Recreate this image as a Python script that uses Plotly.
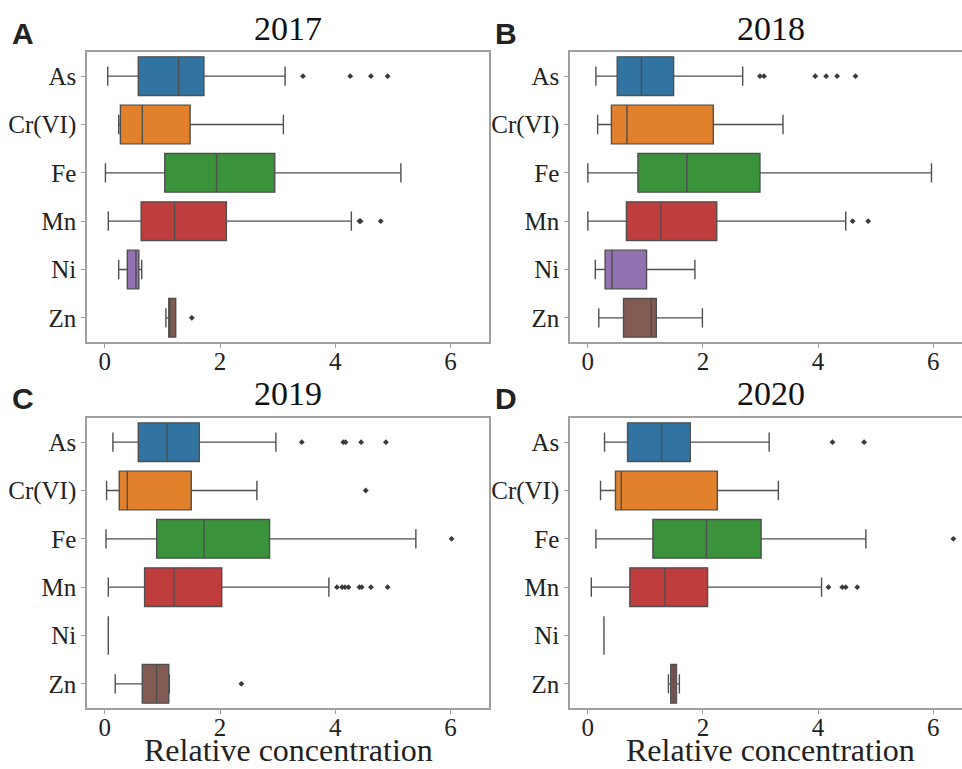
import plotly.graph_objects as go

# Elements shown on every panel (top to bottom)
ELEMENTS = ["As", "Cr(VI)", "Fe", "Mn", "Ni", "Zn"]
YEARS = ["2017", "2018", "2019", "2020"]
PANEL_LETTERS = ["A", "B", "C", "D"]
X_TICKS = [0, 2, 4, 6]

# Box statistics per year, one value per element (As, Cr(VI), Fe, Mn, Ni, Zn)
LOWER_2017 = [0.05, 0.24, 0.01, 0.06, 0.24, 1.06]
Q1_2017 = [0.58, 0.27, 1.04, 0.63, 0.39, 1.11]
MEDIAN_2017 = [1.28, 0.65, 1.94, 1.21, 0.54, 1.13]
Q3_2017 = [1.72, 1.48, 2.95, 2.11, 0.59, 1.23]
UPPER_2017 = [3.13, 3.10, 5.14, 4.28, 0.64, 1.23]
OUTLIERS_2017 = [[3.44, 4.26, 4.62, 4.91], [], [], [4.42, 4.44, 4.79], [], [1.51]]

LOWER_2018 = [0.14, 0.17, 0.00, 0.00, 0.13, 0.19]
Q1_2018 = [0.51, 0.41, 0.87, 0.67, 0.30, 0.62]
MEDIAN_2018 = [0.93, 0.68, 1.72, 1.27, 0.42, 1.10]
Q3_2018 = [1.49, 2.18, 2.99, 2.24, 1.02, 1.19]
UPPER_2018 = [2.69, 3.39, 5.97, 4.48, 1.86, 1.99]
OUTLIERS_2018 = [[2.99, 3.06, 3.95, 4.14, 4.33, 4.65], [], [], [4.60, 4.87], [], []]

LOWER_2019 = [0.14, 0.03, 0.02, 0.06, 0.06, 0.18]
Q1_2019 = [0.58, 0.25, 0.90, 0.69, 0.06, 0.65]
MEDIAN_2019 = [1.08, 0.39, 1.72, 1.20, 0.06, 0.90]
Q3_2019 = [1.64, 1.50, 2.86, 2.03, 0.06, 1.11]
UPPER_2019 = [2.97, 2.64, 5.40, 3.89, 0.06, 1.12]
OUTLIERS_2019 = [[3.42, 4.14, 4.18, 4.45, 4.88], [4.53], [6.02],
                 [4.03, 4.12, 4.17, 4.23, 4.42, 4.46, 4.62, 4.91], [], [2.37]]

LOWER_2020 = [0.29, 0.22, 0.14, 0.06, 0.28, 1.40]
Q1_2020 = [0.69, 0.48, 1.13, 0.73, 0.28, 1.44]
MEDIAN_2020 = [1.28, 0.58, 2.06, 1.34, 0.28, 1.49]
Q3_2020 = [1.78, 2.25, 3.01, 2.08, 0.28, 1.54]
UPPER_2020 = [3.15, 3.31, 4.83, 4.06, 0.28, 1.59]
OUTLIERS_2020 = [[4.25, 4.80], [], [6.35], [4.18, 4.42, 4.48, 4.68], [], []]

PANEL_STATS = [
    (LOWER_2017, Q1_2017, MEDIAN_2017, Q3_2017, UPPER_2017, OUTLIERS_2017),
    (LOWER_2018, Q1_2018, MEDIAN_2018, Q3_2018, UPPER_2018, OUTLIERS_2018),
    (LOWER_2019, Q1_2019, MEDIAN_2019, Q3_2019, UPPER_2019, OUTLIERS_2019),
    (LOWER_2020, Q1_2020, MEDIAN_2020, Q3_2020, UPPER_2020, OUTLIERS_2020),
]

# seaborn "deep" palette, desaturated as in its boxplots
COLORS = ["#3274a1", "#e1812c", "#3a923a", "#c03d3e", "#9372b2", "#845b53"]
LINE = "#4f4f4f"
FRAME = "#a0a0a0"
SERIF = "Liberation Serif, Times New Roman, serif"
SANS = "Liberation Sans, Arial, sans-serif"

W, H = 962, 769
# pixel geometry of the four axes: (left, right, top, bottom)
BOXES = [(87, 489, 52, 342), (570, 962, 52, 342),
         (87, 489, 418, 708), (570, 962, 418, 708)]
X_RANGES = [[-0.31, 6.67], [-0.31, 6.50], [-0.31, 6.67], [-0.31, 6.50]]
# right edge the cut-off panels would have if fully shown
FULL_RIGHT = 971

fig = go.Figure()
layout = dict(
    width=W, height=H, margin=dict(l=0, r=0, t=0, b=0),
    paper_bgcolor="white", plot_bgcolor="white", showlegend=False,
    boxmode="overlay",
)
annotations = []

for p, (stats, year, letter) in enumerate(zip(PANEL_STATS, YEARS, PANEL_LETTERS)):
    lower, q1, med, q3, upper, outl = stats
    ax = "" if p == 0 else str(p + 1)
    xref, yref = "x" + ax, "y" + ax
    for i, el in enumerate(ELEMENTS):
        fig.add_trace(go.Box(
            y=[el], q1=[q1[i]], median=[med[i]], q3=[q3[i]],
            lowerfence=[lower[i]], upperfence=[upper[i]],
            orientation="h", width=0.8, whiskerwidth=0.5,
            fillcolor=COLORS[i], line=dict(color=LINE, width=1.4),
            boxpoints=False, xaxis=xref, yaxis=yref, name=el,
        ))
        if outl[i]:
            fig.add_trace(go.Scatter(
                x=outl[i], y=[el] * len(outl[i]), mode="markers",
                marker=dict(symbol="diamond", size=4.5, color="#3a3a3a"),
                xaxis=xref, yaxis=yref, hoverinfo="x",
            ))

    left, right, top, bottom = BOXES[p]
    full_frame = right < W
    vis_right = right if full_frame else FULL_RIGHT
    layout["xaxis" + ax] = dict(
        domain=[left / W, right / W], range=X_RANGES[p], tickvals=X_TICKS,
        showgrid=False, zeroline=False, showline=True, mirror=True,
        linecolor=FRAME, linewidth=1.5, ticks="outside", ticklen=4,
        tickcolor=FRAME, tickfont=dict(family=SERIF, size=25, color="#222"),
        ticklabelstandoff=-8, anchor=yref,
    )
    layout["yaxis" + ax] = dict(
        domain=[1 - bottom / H, 1 - top / H], type="category",
        categoryorder="array", categoryarray=ELEMENTS, range=[5.5, -0.5],
        showgrid=False, zeroline=False, showline=True, mirror=full_frame,
        linecolor=FRAME, linewidth=1.5, ticks="outside", ticklen=4,
        tickcolor=FRAME, tickfont=dict(family=SERIF, size=25, color="#222"),
        anchor=xref,
    )
    # panel title (year)
    annotations.append(dict(
        text=year, xref="paper", yref="paper",
        x=((left + vis_right) / 2) / W, y=1 - (top - 24) / H,
        xanchor="center", yanchor="middle", showarrow=False,
        font=dict(family=SERIF, size=34, color="#111"),
    ))
    # panel letter
    annotations.append(dict(
        text="<b>%s</b>" % letter, xref="paper", yref="paper",
        x=(left - 64) / W, y=1 - (top - 19) / H,
        xanchor="center", yanchor="middle", showarrow=False,
        font=dict(family=SANS, size=30, color="#222"),
    ))
    # x-axis title on the bottom row
    if p >= 2:
        annotations.append(dict(
            text="Relative concentration", xref="paper", yref="paper",
            x=((left + vis_right) / 2) / W, y=1 - 750 / H,
            xanchor="center", yanchor="middle", showarrow=False,
            font=dict(family=SERIF, size=32, color="#222"),
        ))

layout["annotations"] = annotations
fig.update_layout(**layout)
fig.write_html("out.html")
